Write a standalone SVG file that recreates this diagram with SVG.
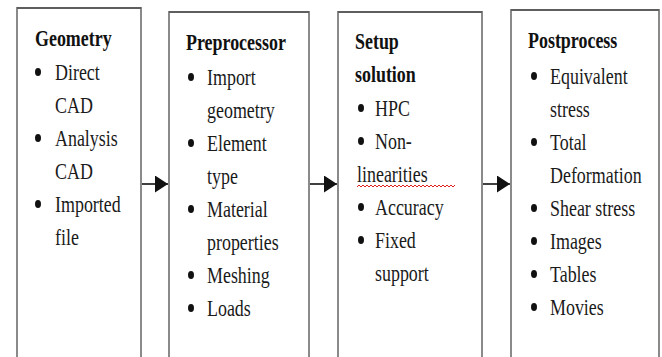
<svg xmlns="http://www.w3.org/2000/svg" width="662" height="357" viewBox="0 0 662 357">
  <defs>
    <style>
      .box { fill: #ffffff; stroke: #8a8a8a; stroke-width: 2; }
      .edge { stroke: #333333; stroke-width: 1; }
      .t { font-family: 'Liberation Serif', Tinos, 'Times New Roman', 'DejaVu Serif', serif; font-size: 23px; font-weight: bold; fill: #111111; }
      .b { font-family: 'Liberation Serif', Tinos, 'Times New Roman', 'DejaVu Serif', serif; font-size: 23px; fill: #1a1a1a; }
      .dot { fill: #111111; }
      .conn { stroke: #111111; stroke-width: 1.6; fill: none; }
      .squiggle { stroke: #e02020; stroke-width: 1; fill: none; }
    </style>
    <marker id="head" viewBox="0 0 13 17" refX="13" refY="8.5" markerWidth="13" markerHeight="17" markerUnits="userSpaceOnUse" orient="auto">
      <path d="M0,0 L13,8.5 L0,17 Z" fill="#111111"/>
    </marker>
  </defs>

  <rect width="662" height="357" fill="#ffffff"/>

  <!-- Geometry -->
  <g id="geometry">
    <rect class="box" x="17" y="8" width="124" height="370"/>
    <line class="edge" x1="17" y1="8" x2="141" y2="8"/>
    <text class="t" transform="matrix(.78 0 0 1 35 46)">Geometry</text>
    <ellipse class="dot" cx="38" cy="72" rx="3" ry="4"/>
    <text class="b" transform="matrix(.78 0 0 1 55 80)">Direct</text>
    <text class="b" transform="matrix(.78 0 0 1 55 113)">CAD</text>
    <ellipse class="dot" cx="38" cy="138" rx="3" ry="4"/>
    <text class="b" transform="matrix(.78 0 0 1 55 146)">Analysis</text>
    <text class="b" transform="matrix(.78 0 0 1 55 179)">CAD</text>
    <ellipse class="dot" cx="38" cy="204" rx="3" ry="4"/>
    <text class="b" transform="matrix(.78 0 0 1 55 212)">Imported</text>
    <text class="b" transform="matrix(.78 0 0 1 55 245)">file</text>
  </g>

  <!-- Preprocessor -->
  <g id="preprocessor">
    <rect class="box" x="169" y="12" width="140" height="370"/>
    <line class="edge" x1="169" y1="12" x2="309" y2="12"/>
    <text class="t" transform="matrix(.78 0 0 1 186 50)">Preprocessor</text>
    <ellipse class="dot" cx="191" cy="77" rx="3" ry="4"/>
    <text class="b" transform="matrix(.78 0 0 1 207 85)">Import</text>
    <text class="b" transform="matrix(.78 0 0 1 207 118)">geometry</text>
    <ellipse class="dot" cx="191" cy="143" rx="3" ry="4"/>
    <text class="b" transform="matrix(.78 0 0 1 207 151)">Element</text>
    <text class="b" transform="matrix(.78 0 0 1 207 184)">type</text>
    <ellipse class="dot" cx="191" cy="209" rx="3" ry="4"/>
    <text class="b" transform="matrix(.78 0 0 1 207 217)">Material</text>
    <text class="b" transform="matrix(.78 0 0 1 207 250)">properties</text>
    <ellipse class="dot" cx="191" cy="275" rx="3" ry="4"/>
    <text class="b" transform="matrix(.78 0 0 1 207 283)">Meshing</text>
    <ellipse class="dot" cx="191" cy="308" rx="3" ry="4"/>
    <text class="b" transform="matrix(.78 0 0 1 207 316)">Loads</text>
  </g>

  <!-- Setup solution -->
  <g id="setup-solution">
    <rect class="box" x="338" y="12" width="144" height="370"/>
    <line class="edge" x1="338" y1="12" x2="482" y2="12"/>
    <text class="t" transform="matrix(.78 0 0 1 355 49)">Setup</text>
    <text class="t" transform="matrix(.78 0 0 1 355 82)">solution</text>
    <ellipse class="dot" cx="361" cy="108" rx="3" ry="4"/>
    <text class="b" transform="matrix(.78 0 0 1 375 116)">HPC</text>
    <ellipse class="dot" cx="361" cy="141" rx="3" ry="4"/>
    <text class="b" transform="matrix(.78 0 0 1 375 149)">Non-</text>
    <text class="b" transform="matrix(.78 0 0 1 357 182)">linearities</text>
    <path class="squiggle" d="M357,187 l2,-2 l2,2 l2,-2 l2,2 l2,-2 l2,2 l2,-2 l2,2 l2,-2 l2,2 l2,-2 l2,2 l2,-2 l2,2 l2,-2 l2,2 l2,-2 l2,2 l2,-2 l2,2 l2,-2 l2,2 l2,-2 l2,2 l2,-2 l2,2 l2,-2 l2,2 l2,-2 l2,2 l2,-2 l2,2 l2,-2 l2,2 l2,-2 l2,2 l2,-2 l2,2 l2,-2 l2,2 l2,-2 l2,2 l2,-2 l2,2 l2,-2 l2,2 l2,-2 l2,2 l2,-2"/>
    <ellipse class="dot" cx="361" cy="207" rx="3" ry="4"/>
    <text class="b" transform="matrix(.78 0 0 1 375 215)">Accuracy</text>
    <ellipse class="dot" cx="361" cy="240" rx="3" ry="4"/>
    <text class="b" transform="matrix(.78 0 0 1 375 248)">Fixed</text>
    <text class="b" transform="matrix(.78 0 0 1 375 281)">support</text>
  </g>

  <!-- Postprocess -->
  <g id="postprocess">
    <rect class="box" x="511" y="10" width="148" height="370"/>
    <line class="edge" x1="511" y1="10" x2="659" y2="10"/>
    <text class="t" transform="matrix(.78 0 0 1 528 48)">Postprocess</text>
    <ellipse class="dot" cx="534" cy="76" rx="3" ry="4"/>
    <text class="b" transform="matrix(.78 0 0 1 550 84)">Equivalent</text>
    <text class="b" transform="matrix(.78 0 0 1 550 117)">stress</text>
    <ellipse class="dot" cx="534" cy="142" rx="3" ry="4"/>
    <text class="b" transform="matrix(.78 0 0 1 550 150)">Total</text>
    <text class="b" transform="matrix(.78 0 0 1 550 183)">Deformation</text>
    <ellipse class="dot" cx="534" cy="208" rx="3" ry="4"/>
    <text class="b" transform="matrix(.78 0 0 1 550 216)">Shear stress</text>
    <ellipse class="dot" cx="534" cy="241" rx="3" ry="4"/>
    <text class="b" transform="matrix(.78 0 0 1 550 249)">Images</text>
    <ellipse class="dot" cx="534" cy="274" rx="3" ry="4"/>
    <text class="b" transform="matrix(.78 0 0 1 550 282)">Tables</text>
    <ellipse class="dot" cx="534" cy="307" rx="3" ry="4"/>
    <text class="b" transform="matrix(.78 0 0 1 550 315)">Movies</text>
  </g>

  <!-- Connectors between stages -->
  <g id="connectors">
    <line class="conn" x1="142" y1="184" x2="168" y2="184" marker-end="url(#head)"/>
    <line class="conn" x1="310" y1="184" x2="337" y2="184" marker-end="url(#head)"/>
    <line class="conn" x1="483" y1="184" x2="510" y2="184" marker-end="url(#head)"/>
  </g>
</svg>
